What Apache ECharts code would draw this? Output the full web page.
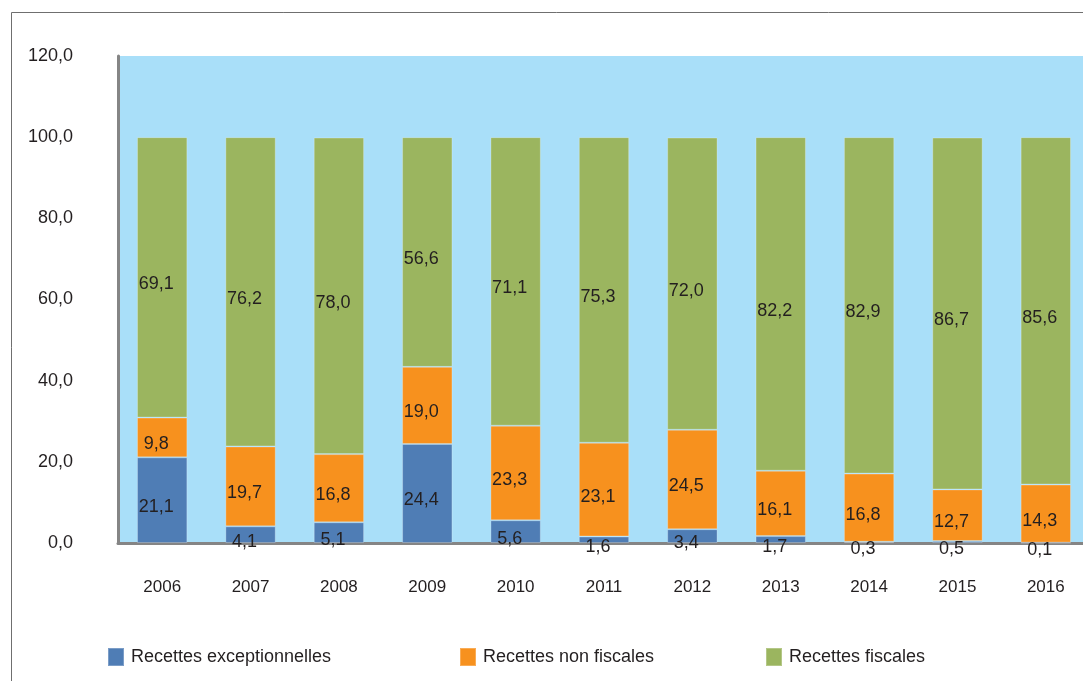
<!DOCTYPE html>
<html>
<head>
<meta charset="utf-8">
<script src="https://cdn.jsdelivr.net/npm/echarts@6/dist/echarts.min.js"></script>
<style>
  html, body { margin: 0; padding: 0; background: #ffffff; overflow: hidden; }
  #chart { width: 1100px; height: 681px; }
</style>
</head>
<body>
<div id="chart"></div>
<script>
// Répartition des recettes (en %), 2006-2016
const years = ['2006', '2007', '2008', '2009', '2010', '2011', '2012', '2013', '2014', '2015', '2016'];
const recettesExceptionnelles = [21.1, 4.1, 5.1, 24.4, 5.6, 1.6, 3.4, 1.7, 0.3, 0.5, 0.1];
const recettesNonFiscales = [9.8, 19.7, 16.8, 19.0, 23.3, 23.1, 24.5, 16.1, 16.8, 12.7, 14.3];
const recettesFiscales = [69.1, 76.2, 78.0, 56.6, 71.1, 75.3, 72.0, 82.2, 82.9, 86.7, 85.6];
const yTicks = { min: 0, max: 120, interval: 20 };

const FONT = '"Liberation Sans", Arial, sans-serif';
const fmt = v => Number(v).toFixed(1).replace('.', ',');

const chart = echarts.init(document.getElementById('chart'), null, { renderer: 'canvas' });

function barSeries(name, data, color) {
  return {
    name: name,
    type: 'bar',
    stack: 'total',
    data: data,
    barWidth: '57%',
    itemStyle: { color: color, borderColor: 'rgba(255,255,255,0.25)', borderWidth: 1 },
    label: {
      show: true,
      position: 'inside',
      offset: [-6, 7],
      formatter: p => fmt(p.value),
      color: '#231f20',
      fontFamily: FONT,
      fontSize: 18
    },
    emphasis: { disabled: true }
  };
}

function legendAt(left, name) {
  return {
    data: [name],
    left: left,
    top: 642,
    itemWidth: 16,
    itemHeight: 18,
    itemGap: 0,
    icon: 'rect',
    textStyle: { fontFamily: FONT, fontSize: 18, color: '#231f20', padding: [0, 0, 0, 2] }
  };
}

chart.setOption({
  animation: false,
  backgroundColor: '#ffffff',
  graphic: [{
    type: 'rect',
    shape: { x: 11.5, y: 12.5, width: 1200, height: 800 },
    style: { fill: 'none', stroke: '#6f6f6f', lineWidth: 1 },
    silent: true,
    z: -1
  }],
  legend: [
    legendAt(102, 'Recettes exceptionnelles'),
    legendAt(454, 'Recettes non fiscales'),
    legendAt(760, 'Recettes fiscales')
  ],
  grid: {
    left: 118,
    top: 56,
    width: 972,
    height: 487,
    show: true,
    backgroundColor: '#a9dff9',
    borderWidth: 0,
    containLabel: false
  },
  xAxis: {
    type: 'category',
    data: years,
    axisLine: { show: true, lineStyle: { color: '#858585', width: 3 } },
    axisTick: { show: false },
    axisLabel: { margin: 36, fontFamily: FONT, fontSize: 17, color: '#231f20' },
    splitLine: { show: false }
  },
  yAxis: {
    type: 'value',
    min: yTicks.min,
    max: yTicks.max,
    interval: yTicks.interval,
    axisLine: { show: true, lineStyle: { color: '#858585', width: 3 } },
    axisTick: { show: false },
    splitLine: { show: false },
    axisLabel: { margin: 45, fontFamily: FONT, fontSize: 18, color: '#231f20', formatter: v => fmt(v) }
  },
  series: [
    barSeries('Recettes exceptionnelles', recettesExceptionnelles, '#4f7db5'),
    barSeries('Recettes non fiscales', recettesNonFiscales, '#f7911e'),
    barSeries('Recettes fiscales', recettesFiscales, '#9bb55f')
  ]
});
</script>
</body>
</html>
